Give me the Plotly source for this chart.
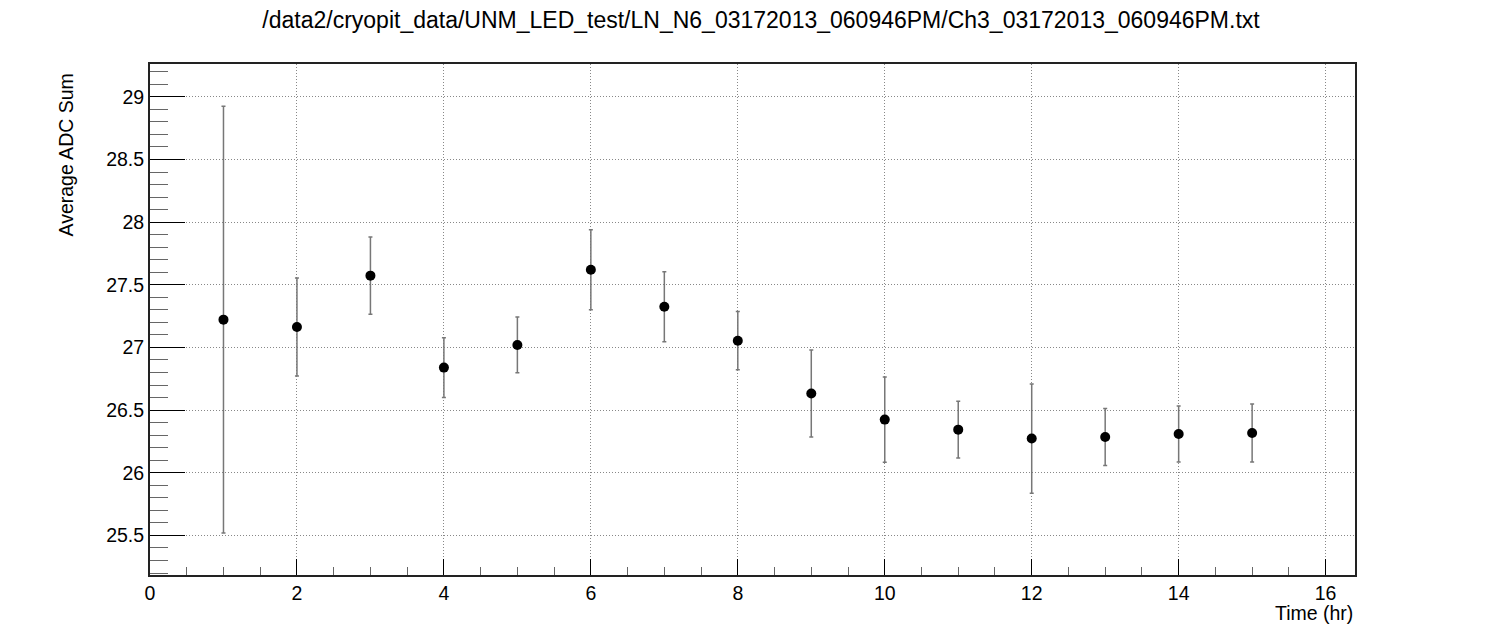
import plotly.graph_objects as go

# hourly averages
time_hr = [1, 2, 3, 4, 5, 6, 7, 8, 9, 10, 11, 12, 13, 14, 15]
avg_adc = [27.222, 27.163, 27.573, 26.839, 27.020, 27.620, 27.325, 27.054,
           26.632, 26.424, 26.344, 26.273, 26.285, 26.309, 26.317]
adc_err = [1.703, 0.391, 0.309, 0.239, 0.222, 0.319, 0.279, 0.232,
           0.347, 0.340, 0.227, 0.436, 0.227, 0.224, 0.232]

title = "/data2/cryopit_data/UNM_LED_test/LN_N6_03172013_060946PM/Ch3_03172013_060946PM.txt"
font = "Liberation Sans, Arial, Helvetica, sans-serif"

# page body has an 8px margin, so the margins below are shifted to compensate
fig = go.Figure()
fig.add_trace(go.Scatter(
    x=time_hr,
    y=avg_adc,
    mode="markers",
    marker=dict(color="black", size=10),
    error_y=dict(type="data", array=adc_err, visible=True,
                 color="#777777", thickness=1.5, width=2),
    showlegend=False,
))

fig.update_layout(
    width=1506,
    height=640,
    margin=dict(l=142, r=159, t=56, b=73),
    paper_bgcolor="white",
    plot_bgcolor="white",
    font=dict(family=font, size=19.5, color="black"),
    title=dict(text=title, x=0.5, xanchor="center", y=1 - 12 / 640,
               yanchor="middle", font=dict(family=font, size=23, color="black")),
)

fig.update_xaxes(
    range=[0, 16.4],
    tick0=0, dtick=2,
    ticks="inside", ticklen=16, tickcolor="black", tickwidth=1,
    minor=dict(dtick=0.5, ticks="inside", ticklen=8, tickcolor="#666666", showgrid=False),
    showgrid=True, gridcolor="#888888", griddash="1px,2px", gridwidth=1,
    showline=True, linecolor="#222222", linewidth=2, mirror=True,
    zeroline=False,
    tickfont=dict(size=19.5),
)
fig.update_yaxes(
    range=[25.184, 29.262],
    tick0=0, dtick=0.5,
    ticks="inside", ticklen=35, tickcolor="black", tickwidth=1,
    minor=dict(dtick=0.1, ticks="inside", ticklen=18, tickcolor="#666666", showgrid=False),
    showgrid=True, gridcolor="#888888", griddash="1px,2px", gridwidth=1,
    showline=True, linecolor="#222222", linewidth=2, mirror=True,
    zeroline=False,
    tickfont=dict(size=19.5),
)

# axis titles placed like ROOT does (aligned to the axis ends)
fig.add_annotation(text="Time (hr)", xref="paper", yref="paper",
                   x=1, y=(575 - 613) / 511, xanchor="right", yanchor="middle",
                   showarrow=False, font=dict(size=19.5))
fig.add_annotation(text="Average ADC Sum", xref="paper", yref="paper",
                   x=(65 - 150) / 1205, y=(575 - 72) / 511, textangle=-90,
                   xanchor="center", yanchor="top",
                   showarrow=False, font=dict(size=19.5))

fig.write_html("out.html")
